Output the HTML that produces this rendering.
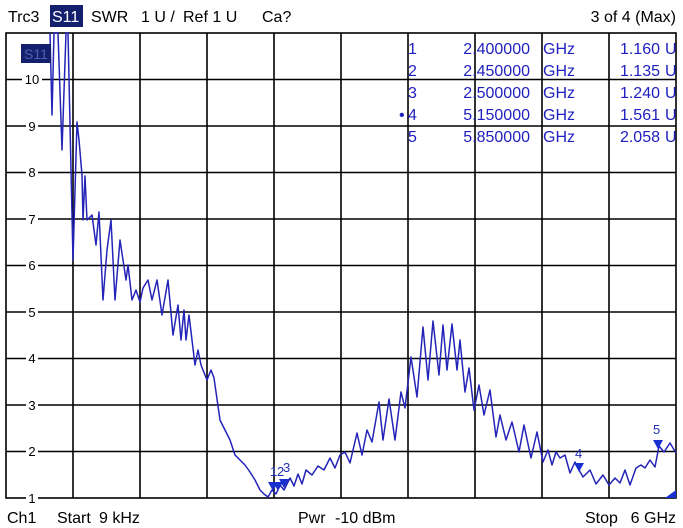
<!DOCTYPE html>
<html><head><meta charset="utf-8"><style>
html,body{margin:0;padding:0;background:#fff;}
body{width:683px;height:528px;overflow:hidden;position:relative;font-family:"Liberation Sans",Arial,sans-serif;}
</style></head><body>
<svg width="683" height="528" style="position:absolute;left:0;top:0" font-family="Liberation Sans, Arial, sans-serif">
<g stroke="#000" stroke-width="1.6" fill="none">
<rect x="6" y="33" width="670" height="465"/>
<line x1="73" y1="33" x2="73" y2="498"/><line x1="140" y1="33" x2="140" y2="498"/>
<line x1="207" y1="33" x2="207" y2="498"/><line x1="274" y1="33" x2="274" y2="498"/>
<line x1="341" y1="33" x2="341" y2="498"/><line x1="408" y1="33" x2="408" y2="498"/>
<line x1="475" y1="33" x2="475" y2="498"/><line x1="542" y1="33" x2="542" y2="498"/>
<line x1="609" y1="33" x2="609" y2="498"/>
<line x1="6" y1="79.5" x2="676" y2="79.5"/><line x1="6" y1="126" x2="676" y2="126"/>
<line x1="6" y1="172.5" x2="676" y2="172.5"/><line x1="6" y1="219" x2="676" y2="219"/>
<line x1="6" y1="265.5" x2="676" y2="265.5"/><line x1="6" y1="312" x2="676" y2="312"/>
<line x1="6" y1="358.5" x2="676" y2="358.5"/><line x1="6" y1="405" x2="676" y2="405"/>
<line x1="6" y1="451.5" x2="676" y2="451.5"/>
</g>
<g font-size="13" text-anchor="middle" fill="#000">
<rect x="22" y="72" width="20" height="15" fill="#fff"/><text x="32" y="84">10</text>
<rect x="26" y="119" width="12" height="15" fill="#fff"/><text x="32" y="131">9</text>
<rect x="26" y="165" width="12" height="15" fill="#fff"/><text x="32" y="177">8</text>
<rect x="26" y="212" width="12" height="15" fill="#fff"/><text x="32" y="224">7</text>
<rect x="26" y="258" width="12" height="15" fill="#fff"/><text x="32" y="270">6</text>
<rect x="26" y="305" width="12" height="15" fill="#fff"/><text x="32" y="317">5</text>
<rect x="26" y="351" width="12" height="15" fill="#fff"/><text x="32" y="363">4</text>
<rect x="26" y="398" width="12" height="15" fill="#fff"/><text x="32" y="410">3</text>
<rect x="26" y="444" width="12" height="15" fill="#fff"/><text x="32" y="456">2</text>
<rect x="26" y="491" width="12" height="15" fill="#fff"/><text x="32" y="503">1</text>
</g>
<polyline fill="none" stroke="#2424b8" stroke-width="1.5" stroke-linejoin="round" points="
50,33 52,115 54,33 56,33 58,33 62,150 66,33 68,33 73,260 77,122 79,140 82,175 83,220 85,176 87,220 92,215 96,245 99,212 103,300 107,250 111,220 115,300 120,240 126,280 128,265 132,300 136,290 140,302 143,288 148,280 152,300 157,280 162,315 168,280 173,335 178,305 181,340 184,310 186,340 189,315 195,365 198,350 201,365 207,380 211,370 214,378 220,420 225,430 230,440 235,455 240,460 245,465 250,472 255,480 260,490 264,494 268,497 272,490 276,494 280,485 284,490 290,478 294,486 298,474 302,484 306,470 312,475 318,466 324,470 330,458 335,468 340,455 345,452 350,463 357,433 362,455 367,430 372,442 379,402 383,440 389,399 395,440 401,392 405,408 411,357 417,397 423,327 428,380 433,321 439,375 443,325 447,370 452,324 457,370 460,340 465,392 469,368 474,410 479,385 484,415 490,390 496,437 500,415 506,440 512,422 519,452 524,425 531,458 537,432 543,462 548,450 552,465 556,452 560,458 565,455 570,473 575,462 579,470 583,477 590,470 596,484 603,475 609,485 615,478 620,483 625,470 630,485 636,468 641,465 645,468 650,460 655,467 659,446 664,452 670,443 676,453"/>
<g fill="#1a2fd0">
<polygon points="268,482 278,482 273,491"/>
<polygon points="273,482 283,482 278,491"/>
<polygon points="279,479 289,479 284,488"/>
<polygon points="574,463 584,463 579,472"/>
<polygon points="653,440 663,440 658,449"/>
<polygon points="665,498 676,490 676,498"/>
</g>
<g font-size="13" fill="#2030b0">
<text x="270" y="476">1</text><text x="277" y="476">2</text><text x="283" y="472">3</text>
<text x="575" y="458">4</text><text x="653" y="434">5</text>
</g>
<rect x="21" y="44" width="30" height="19" fill="#14206e"/>
<text x="24" y="59" font-size="14" fill="#5060b0">S11</text>
<g font-size="16" fill="#2020c0">
<text x="408" y="54">1</text><text x="530" y="54" text-anchor="end">2.400000</text><text x="543" y="54">GHz</text><text x="660" y="54" text-anchor="end">1.160</text><text x="665" y="54">U</text>
<text x="408" y="76">2</text><text x="530" y="76" text-anchor="end">2.450000</text><text x="543" y="76">GHz</text><text x="660" y="76" text-anchor="end">1.135</text><text x="665" y="76">U</text>
<text x="408" y="98">3</text><text x="530" y="98" text-anchor="end">2.500000</text><text x="543" y="98">GHz</text><text x="660" y="98" text-anchor="end">1.240</text><text x="665" y="98">U</text>
<text x="399" y="120">•</text><text x="408" y="120">4</text><text x="530" y="120" text-anchor="end">5.150000</text><text x="543" y="120">GHz</text><text x="660" y="120" text-anchor="end">1.561</text><text x="665" y="120">U</text>
<text x="408" y="142">5</text><text x="530" y="142" text-anchor="end">5.850000</text><text x="543" y="142">GHz</text><text x="660" y="142" text-anchor="end">2.058</text><text x="665" y="142">U</text>
</g>
<rect x="50" y="5" width="33" height="22" fill="#14206e"/>
<g font-size="16" fill="#000">
<text x="8" y="22">Trc3</text>
<text x="52" y="22" fill="#fff">S11</text>
<text x="91" y="22">SWR</text>
<text x="141" y="22">1 U /</text>
<text x="183" y="22">Ref 1 U</text>
<text x="262" y="22">Ca?</text>
<text x="676" y="22" text-anchor="end">3 of 4 (Max)</text>
<text x="7" y="523">Ch1</text>
<text x="57" y="523">Start</text>
<text x="99" y="523">9 kHz</text>
<text x="298" y="523">Pwr</text>
<text x="335" y="523">-10 dBm</text>
<text x="585" y="523">Stop</text>
<text x="676" y="523" text-anchor="end">6 GHz</text>
</g>
</svg>
</body></html>
